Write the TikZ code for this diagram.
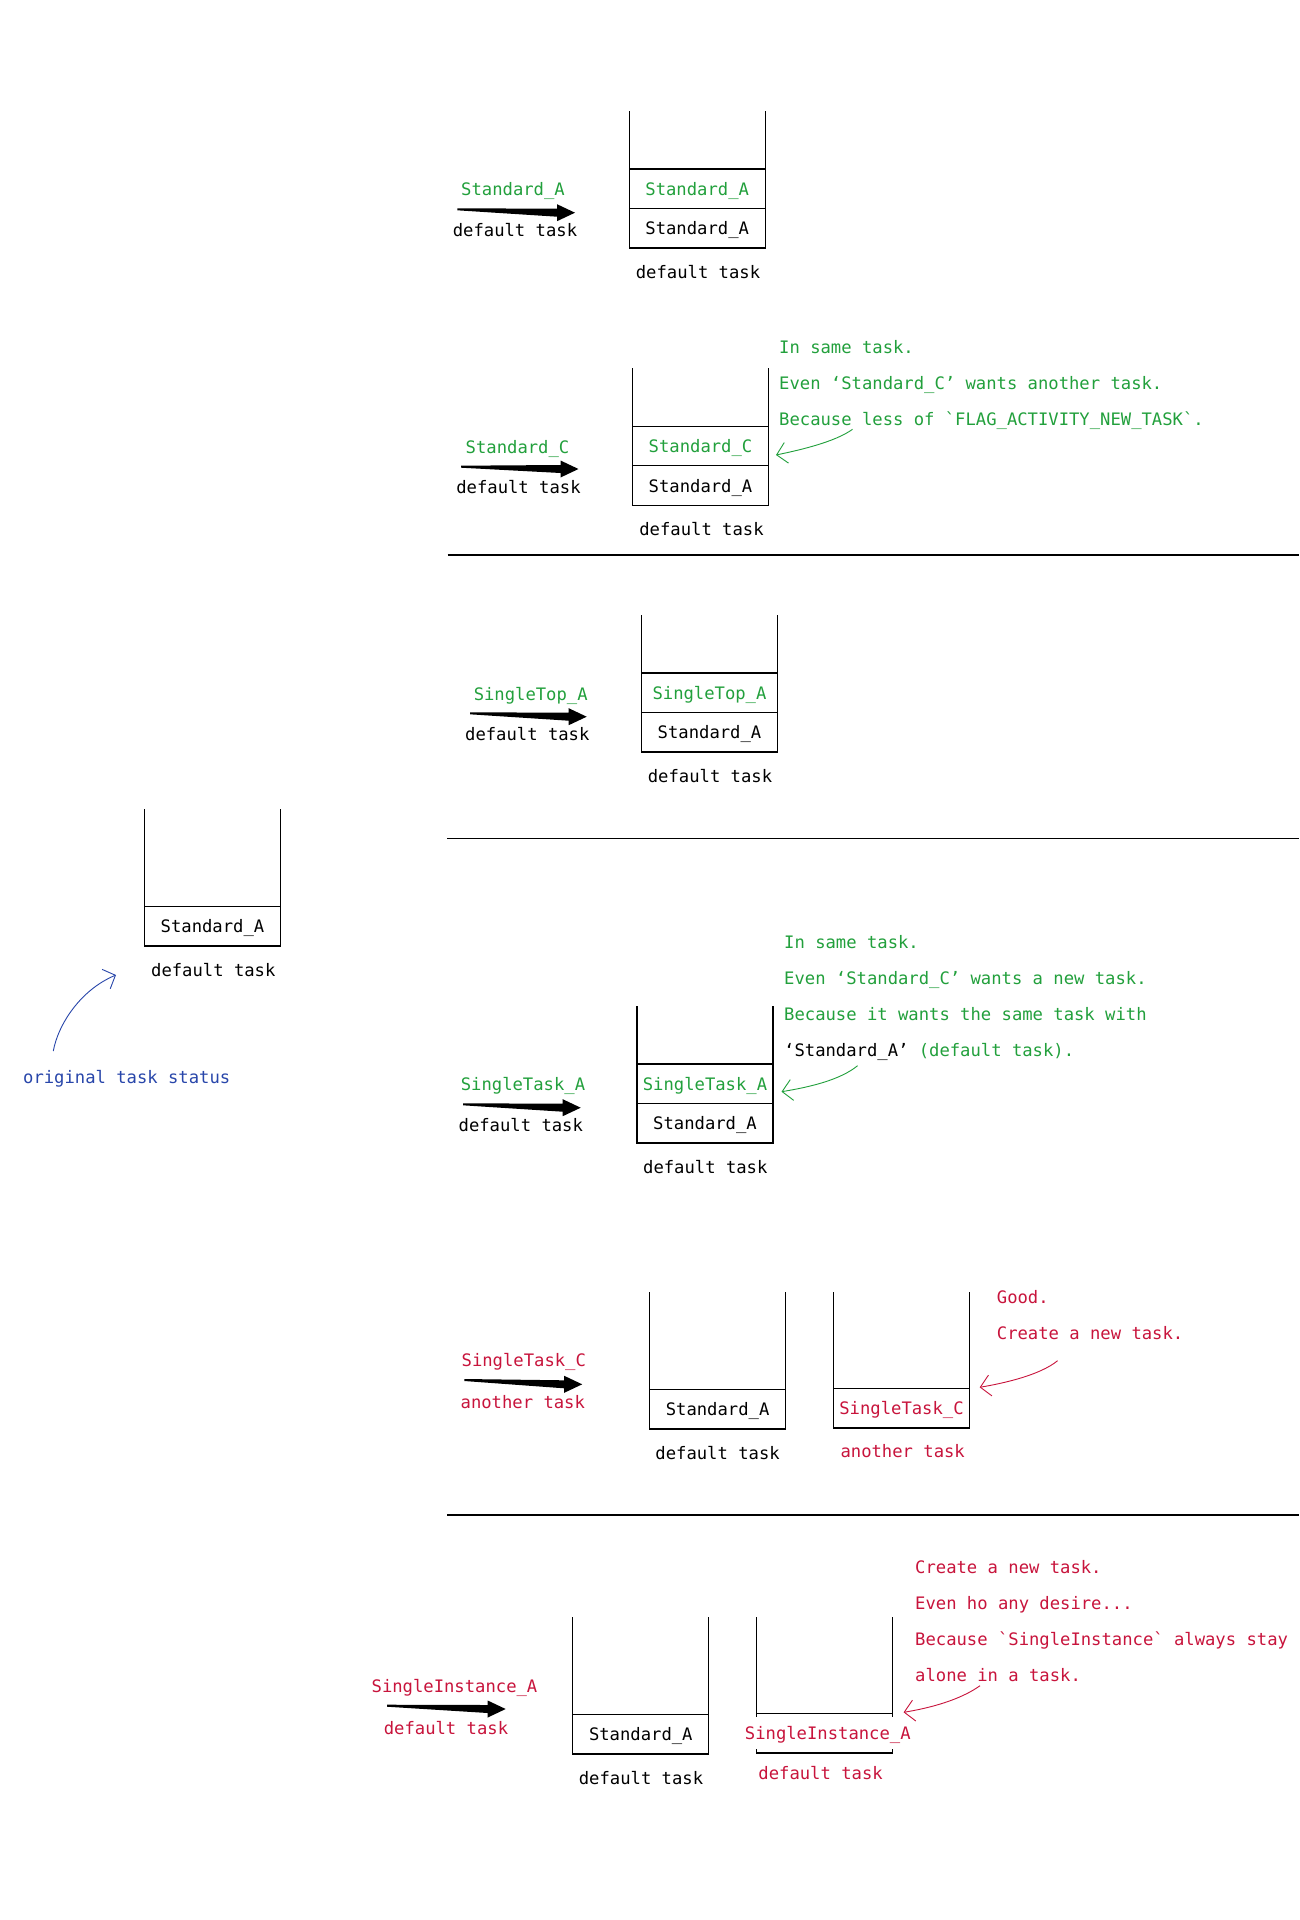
\documentclass[tikz,border=0pt]{standalone}
\usepackage{fontspec}
\setmonofont{DejaVu Sans Mono}
\usetikzlibrary{calc,arrows.meta}
\definecolor{taskGreen}{RGB}{34,160,60}
\definecolor{taskRed}{RGB}{200,20,60}
\definecolor{taskBlue}{RGB}{40,70,170}
\newcommand{\taskfont}{\ttfamily\fontsize{17.2}{36}\selectfont}
\newcommand{\fatarrow}[2]{%
  \fill let \p1=(#1), \p2=(#2) in
    (\x1,\y1+1) -- (\x2-18,\y2+4) -- (\x2-18,\y2+8.5) -- (\x2,\y2)
    -- (\x2-18,\y2-8.5) -- (\x2-18,\y2-4) -- (\x1,\y1-1) -- cycle;}
\tikzset{
  cell/.style={draw, line width=1.3pt, minimum width=136pt, minimum height=39.5pt, inner sep=0pt, outer sep=0pt},
  side/.style={line width=1.3pt},
  rule/.style={line width=1.3pt},
  note/.style={align=left, anchor=base west, inner sep=0pt},
  hint/.style={line width=0.9pt, -{Straight Barb[length=10pt,width=21pt]}}
}
\begin{document}
\begin{tikzpicture}[x=1pt, y=-1pt, every node/.style={font=\taskfont, text depth=0pt}]
    \fill[white] (0,0) rectangle (1299,1920);
    \useasboundingbox (0,0) rectangle (1299,1920);

    % original task
    \node[cell] (origA) at (212.5,926.3) {Standard\_A};
    \draw[side] (origA.north west) -- ++(0,-97.4);
    \draw[side] (origA.north east) -- ++(0,-97.4);
    \node (origTask) at (213.3,970) {default task};
    \node[text=taskBlue] (origNote) at (126.7,1077.3) {original task status};
    \coordinate (origFrom) at (53.3,1051);
    \coordinate (origTo) at (116,975);
    \draw[hint, taskBlue] (origFrom) .. controls (58,1025) and (80,990) .. (origTo);

    % Standard_A
    \coordinate (arrOneS) at (457.3,209.3);
    \coordinate (arrOneE) at (575,212.7);
    \fatarrow{arrOneS}{arrOneE}
    \node[text=taskGreen] (launchOne) at (513,189) {Standard\_A};
    \node (launchOneTask) at (515,230) {default task};
    \node[cell, text=taskGreen] (oneTop) at (697.2,188.8) {Standard\_A};
    \node[cell] (oneBot) at (697.2,228.3) {Standard\_A};
    \draw[side] (oneTop.north west) -- ++(0,-58.5);
    \draw[side] (oneTop.north east) -- ++(0,-58.5);
    \node (oneTask) at (698,271.7) {default task};

    % Standard_C
    \coordinate (arrTwoS) at (461,466.7);
    \coordinate (arrTwoE) at (578.5,469);
    \fatarrow{arrTwoS}{arrTwoE}
    \node[text=taskGreen] (launchTwo) at (517.5,446.7) {Standard\_C};
    \node (launchTwoTask) at (518.5,486.7) {default task};
    \node[cell, text=taskGreen] (twoTop) at (700.5,446) {Standard\_C};
    \node[cell] (twoBot) at (700.5,485.5) {Standard\_A};
    \draw[side] (twoTop.north west) -- ++(0,-58.4);
    \draw[side] (twoTop.north east) -- ++(0,-58.4);
    \node (twoTask) at (701.5,529.3) {default task};
    \node[note, text=taskGreen] (twoNote) at (779,425.5) {In same task.\\Even ‘Standard\_C’ wants another task.\\Because less of `FLAG\_ACTIVITY\_NEW\_TASK`.};
    \coordinate (twoFrom) at (852.5,429.3);
    \coordinate (twoTo) at (776,455);
    \draw[hint, taskGreen] (twoFrom) .. controls (835,442) and (800,450) .. (twoTo);
    \draw[rule] (447.5,555) coordinate (ruleOneL) -- (1299,555) coordinate (ruleOneR);

    % SingleTop_A
    \coordinate (arrThreeS) at (470,713.3);
    \coordinate (arrThreeE) at (586.7,716.7);
    \fatarrow{arrThreeS}{arrThreeE}
    \node[text=taskGreen] (launchThree) at (530.7,694.3) {SingleTop\_A};
    \node (launchThreeTask) at (527.3,734.3) {default task};
    \node[cell, text=taskGreen] (threeTop) at (709.5,692.8) {SingleTop\_A};
    \node[cell] (threeBot) at (709.5,732.3) {Standard\_A};
    \draw[side] (threeTop.north west) -- ++(0,-58.3);
    \draw[side] (threeTop.north east) -- ++(0,-58.3);
    \node (threeTask) at (710,776) {default task};
    \draw[rule] (447.3,838.3) coordinate (ruleTwoL) -- (1299,838.3) coordinate (ruleTwoR);

    % SingleTask_A
    \coordinate (arrFourS) at (463,1104.3);
    \coordinate (arrFourE) at (580.7,1107.7);
    \fatarrow{arrFourS}{arrFourE}
    \node[text=taskGreen] (launchFour) at (523,1084) {SingleTask\_A};
    \node (launchFourTask) at (520.8,1125) {default task};
    \node[cell, text=taskGreen] (fourTop) at (705,1083.8) {SingleTask\_A};
    \node[cell] (fourBot) at (705,1123.3) {Standard\_A};
    \draw[side] (fourTop.north west) -- ++(0,-58.3);
    \draw[side] (fourTop.north east) -- ++(0,-58.3);
    \node (fourTask) at (705.3,1167.3) {default task};
    \node[note, text=taskGreen] (fourNote) at (784,1056) {In same task.\\Even ‘Standard\_C’ wants a new task.\\Because it wants the same task with\\{\color{black}‘Standard\_A’} (default task).};
    \coordinate (fourFrom) at (857.6,1065.7);
    \coordinate (fourTo) at (781.5,1091.7);
    \draw[hint, taskGreen] (fourFrom) .. controls (840,1080) and (810,1087) .. (fourTo);

    % SingleTask_C
    \coordinate (arrFiveS) at (464.4,1380);
    \coordinate (arrFiveE) at (582.2,1384.3);
    \fatarrow{arrFiveS}{arrFiveE}
    \node[text=taskRed] (launchFive) at (523.8,1360) {SingleTask\_C};
    \node[text=taskRed] (launchFiveTask) at (522.8,1401.7) {another task};
    \node[cell] (fiveA) at (717.6,1409.3) {Standard\_A};
    \draw[side] (fiveA.north west) -- ++(0,-97.6);
    \draw[side] (fiveA.north east) -- ++(0,-97.6);
    \node (fiveATask) at (717.6,1453.3) {default task};
    \node[cell, text=taskRed] (fiveC) at (901.5,1408.3) {SingleTask\_C};
    \draw[side] (fiveC.north west) -- ++(0,-96.6);
    \draw[side] (fiveC.north east) -- ++(0,-96.6);
    \node[text=taskRed] (fiveCTask) at (902.7,1450.7) {another task};
    \node[note, text=taskRed] (fiveNote) at (996.7,1339.5) {Good.\\Create a new task.};
    \coordinate (fiveFrom) at (1057.6,1360.7);
    \coordinate (fiveTo) at (979.7,1387.3);
    \draw[hint, taskRed] (fiveFrom) .. controls (1040,1375) and (1005,1383) .. (fiveTo);
    \draw[rule] (447,1515) coordinate (ruleThreeL) -- (1299,1515) coordinate (ruleThreeR);

    % SingleInstance_A
    \coordinate (arrSixS) at (387,1705.7);
    \coordinate (arrSixE) at (505.7,1709);
    \fatarrow{arrSixS}{arrSixE}
    \node[text=taskRed] (launchSix) at (454.5,1685.7) {SingleInstance\_A};
    \node[text=taskRed] (launchSixTask) at (446,1727.7) {default task};
    \node[cell] (sixA) at (640.8,1734.3) {Standard\_A};
    \draw[side] (sixA.north west) -- ++(0,-97.6);
    \draw[side] (sixA.north east) -- ++(0,-97.6);
    \node (sixATask) at (641,1778.3) {default task};
    \node[cell] (sixI) at (824.8,1733.3) {};
    \draw[side] (sixI.north west) -- ++(0,-96.6);
    \draw[side] (sixI.north east) -- ++(0,-96.6);
    \node[fill=white, text=taskRed, minimum height=32pt, inner xsep=1pt] (sixIName) at (827.8,1733) {SingleInstance\_A};
    \node[text=taskRed] (sixITask) at (820.6,1773.3) {default task};
    \node[note, text=taskRed] (sixNote) at (915,1681) {Create a new task.\\Even ho any desire...\\Because `SingleInstance` always stay\\alone in a task.};
    \coordinate (sixFrom) at (980,1685.7);
    \coordinate (sixTo) at (903.6,1712.3);
    \draw[hint, taskRed] (sixFrom) .. controls (960,1700) and (930,1708) .. (sixTo);
\end{tikzpicture}
\end{document}
